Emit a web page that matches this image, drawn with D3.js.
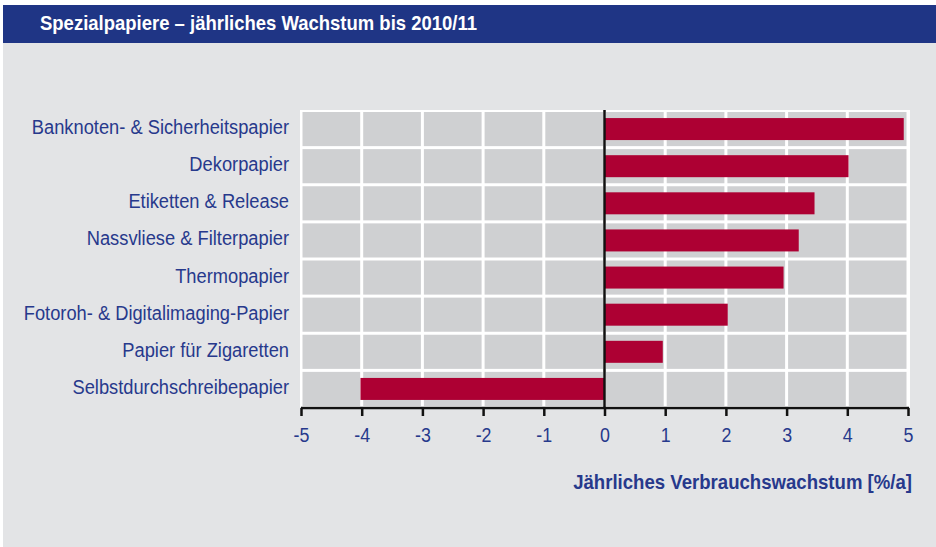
<!DOCTYPE html>
<html>
<head>
<meta charset="utf-8">
<script src="https://cdn.jsdelivr.net/npm/d3@7"></script>
<style>
  body { margin: 0; background: #fff; }
  svg { display: block; font-family: "Liberation Sans", Arial, sans-serif; }
</style>
</head>
<body>
<script>
// Chart data
const categories = [
  "Banknoten- & Sicherheitspapier",
  "Dekorpapier",
  "Etiketten & Release",
  "Nassvliese & Filterpapier",
  "Thermopapier",
  "Fotoroh- & Digitalimaging-Papier",
  "Papier für Zigaretten",
  "Selbstdurchschreibepapier"
];
const growth = [4.93, 4.02, 3.46, 3.2, 2.95, 2.03, 0.96, -4.02];
const xTicks = [-5, -4, -3, -2, -1, 0, 1, 2, 3, 4, 5];

const title = "Spezialpapiere – jährliches Wachstum bis 2010/11";
const axisTitle = "Jährliches Verbrauchswachstum [%/a]";

const w = 936;
const h = 547;
const blue = "#27398c";

const svg = d3.select("body")
  .append("svg")
  .attr("width", w)
  .attr("height", h);

// Background panel
svg.append("rect")
  .attr("x", 3).attr("y", 5)
  .attr("width", w - 3).attr("height", h - 5)
  .attr("fill", "#e3e4e6");

// Header bar
svg.append("rect")
  .attr("x", 3).attr("y", 5)
  .attr("width", w - 3).attr("height", 38)
  .attr("fill", "#1f3585");

// condensed look: squeeze text horizontally
svg.append("text")
  .attr("transform", "translate(40, 30) scale(0.925, 1)")
  .attr("fill", "#fff")
  .attr("font-size", "20px")
  .attr("font-weight", "bold")
  .text(title);

// Scales
const x = d3.scaleLinear()
  .domain([-5, 5])
  .range([301, 908]);

const y = d3.scaleBand()
  .domain(categories)
  .range([110, 407])
  .paddingInner(0);

// Plot background (white = grid lines)
svg.append("rect")
  .attr("x", x(-5) - 1)
  .attr("y", y.range()[0])
  .attr("width", x(5) - x(-5) + 3)
  .attr("height", y.range()[1] - y.range()[0])
  .attr("fill", "#fff");

// Gray cells
const cells = [];
categories.forEach((c) => {
  for (let i = 0; i < xTicks.length - 1; i++) {
    cells.push({ c, a: xTicks[i], b: xTicks[i + 1] });
  }
});

svg.append("g")
  .selectAll("rect")
  .data(cells)
  .enter()
  .append("rect")
  .attr("x", d => x(d.a) + 1.5)
  .attr("y", d => y(d.c) + 2)
  .attr("width", d => x(d.b) - x(d.a) - 3)
  .attr("height", y.bandwidth() - 3)
  .attr("fill", "#cfd0d2");

// Bars
const barH = 22;
svg.append("g")
  .selectAll("rect")
  .data(categories)
  .enter()
  .append("rect")
  .attr("x", (d, i) => x(Math.min(0, growth[i])))
  .attr("y", d => y(d) + (y.bandwidth() - barH) / 2 + 0.5)
  .attr("width", (d, i) => Math.abs(x(growth[i]) - x(0)))
  .attr("height", barH)
  .attr("fill", "#ad0033");

// Zero line
svg.append("line")
  .attr("x1", x(0)).attr("x2", x(0))
  .attr("y1", y.range()[0]).attr("y2", y.range()[1] + 1)
  .attr("stroke", "#111")
  .attr("stroke-width", 2.5);

// Category labels
svg.append("g")
  .selectAll("text")
  .data(categories)
  .enter()
  .append("text")
  .attr("transform", d => `translate(289, ${y(d) + y.bandwidth() / 2 + 5.5}) scale(0.915, 1)`)
  .attr("text-anchor", "end")
  .attr("fill", blue)
  .attr("font-size", "20px")
  .text(d => d);

// X axis
const xAxis = d3.axisBottom(x)
  .tickValues(xTicks)
  .tickSize(8)
  .tickFormat(d3.format("d"));

const gx = svg.append("g")
  .attr("transform", `translate(0, ${y.range()[1] + 1})`)
  .call(xAxis);

gx.select(".domain")
  .attr("d", `M${x(-5)},0H${x(5) + 1}`)
  .attr("stroke", "#111")
  .attr("stroke-width", 2.5);
gx.selectAll(".tick line")
  .attr("stroke", "#111")
  .attr("stroke-width", 2.5);
gx.selectAll(".tick text")
  .attr("y", 0)
  .attr("dy", 0)
  .attr("transform", "translate(0, 34) scale(0.85, 1)")
  .attr("fill", blue)
  .attr("font-size", "21px")
  .attr("font-family", "Liberation Sans, Arial, sans-serif")
  .text(d => d < 0 ? "-" + Math.abs(d) : d);

// Axis title
svg.append("text")
  .attr("transform", "translate(912, 489) scale(0.93, 1)")
  .attr("text-anchor", "end")
  .attr("fill", blue)
  .attr("font-size", "20px")
  .attr("font-weight", "bold")
  .text(axisTitle);
</script>
</body>
</html>
